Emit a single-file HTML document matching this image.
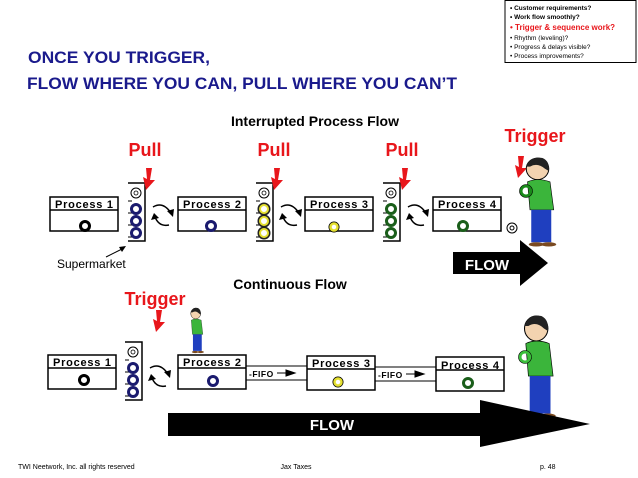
<!DOCTYPE html>
<html><head><meta charset="utf-8"><style>
html,body{margin:0;padding:0;background:#fff;}
svg{display:block;font-family:"Liberation Sans",sans-serif;}
</style></head><body>
<svg width="638" height="478" viewBox="0 0 638 478" xmlns="http://www.w3.org/2000/svg">
<defs>
<g id="pbox">
 <rect x="0" y="0" width="68" height="34" fill="#fff" stroke="#000" stroke-width="1.5"/>
 <line x1="0" y1="13" x2="68" y2="13" stroke="#000" stroke-width="1.5"/>
</g>
<g id="rackframe">
 <path d="M0 0 H17 V58 H0" fill="none" stroke="#000" stroke-width="1.5"/>
 <line x1="0" y1="18" x2="4" y2="18" stroke="#000"/>
 <line x1="0" y1="30" x2="4" y2="30" stroke="#000"/>
 <line x1="0" y1="42" x2="4" y2="42" stroke="#000"/>
 <line x1="0" y1="54" x2="4" y2="54" stroke="#000"/>
 <circle cx="8" cy="10" r="5" fill="#fff" stroke="#000" stroke-width="1"/>
 <circle cx="8" cy="10" r="2" fill="none" stroke="#000" stroke-width="0.8"/>
</g>
<g id="curl">
 <path d="M2 -8 Q12 -14 20 -2" fill="none" stroke="#000" stroke-width="1.5"/>
 <path d="M16 -4 L22 2 L23 -6 Z" fill="#000"/>
 <path d="M18 10 Q8 12 4 2" fill="none" stroke="#000" stroke-width="1.5"/>
 <path d="M0 5 L3 -2 L8 3 Z" fill="#000"/>
</g>
<g id="redarrow">
 <path d="M3 0 L9 0 L7 12 L12 12 L3 22 L0 9 L4 11 Z" fill="#e8161b"/>
</g>
<g id="person">
 <ellipse cx="14" cy="10" rx="9" ry="10" fill="#f3d3b0" stroke="#000" stroke-width="0.8"/>
 <path d="M5 8 Q8 -2 18 0 Q24 3 23 12 L20 10 Q14 4 8 8 Z" fill="#222"/>
 <path d="M6 22 Q14 18 24 22 L27 48 L8 48 Z" fill="#3bb53b" stroke="#000" stroke-width="0.5"/>
 <rect x="9" y="48" width="16" height="30" fill="#1f3fbf"/>
 <ellipse cx="13" cy="80" rx="6" ry="2" fill="#7a4a20"/>
 <ellipse cx="23" cy="80" rx="6" ry="2" fill="#7a4a20"/>
</g>
</defs>

<rect x="505" y="0.5" width="131" height="62" fill="#fff" stroke="#000" stroke-width="1"/>
<g font-size="6.5" fill="#000">
<text x="510" y="10" font-weight="bold">•  Customer requirements?</text>
<text x="510" y="19" font-weight="bold">•  Work flow smoothly?</text>
<text x="510" y="30" font-weight="bold" fill="#e8161b" font-size="8">•  Trigger &amp; sequence work?</text>
<text x="510" y="40">•  Rhythm (leveling)?</text>
<text x="510" y="49">•  Progress &amp; delays visible?</text>
<text x="510" y="58">•  Process improvements?</text>
</g>

<g fill="#1a1a8c" font-weight="bold" font-size="17">
<text x="28" y="63" textLength="182" lengthAdjust="spacingAndGlyphs">ONCE YOU TRIGGER,</text>
<text x="27" y="89" textLength="430" lengthAdjust="spacingAndGlyphs">FLOW WHERE YOU CAN, PULL WHERE YOU CAN’T</text>
</g>
<text x="315" y="126" font-size="14" font-weight="bold" text-anchor="middle">Interrupted Process Flow</text>

<g fill="#e8161b" font-weight="bold" font-size="18">
<text x="145" y="156" text-anchor="middle">Pull</text>
<text x="274" y="156" text-anchor="middle">Pull</text>
<text x="402" y="156" text-anchor="middle">Pull</text>
<text x="535" y="142" text-anchor="middle">Trigger</text>
<text x="155" y="305" text-anchor="middle">Trigger</text>
</g>

<g font-size="11" font-weight="bold">
<use href="#pbox" x="50" y="197"/><text x="55" y="208" textLength="58">Process 1</text>
<use href="#pbox" x="178" y="197"/><text x="183" y="208" textLength="58">Process 2</text>
<use href="#pbox" x="305" y="197"/><text x="310" y="208" textLength="58">Process 3</text>
<use href="#pbox" x="433" y="197"/><text x="438" y="208" textLength="58">Process 4</text>
</g>
<circle cx="85" cy="226" r="4.5" fill="none" stroke="#000" stroke-width="3"/>
<circle cx="211" cy="226" r="4.5" fill="none" stroke="#1a1a6e" stroke-width="3"/>
<circle cx="334" cy="227" r="5" fill="none" stroke="#000" stroke-width="1"/><circle cx="334" cy="227" r="3.5" fill="none" stroke="#e5e030" stroke-width="2.5"/>
<circle cx="463" cy="226" r="4.5" fill="none" stroke="#1a5e1a" stroke-width="3"/>
<circle cx="512" cy="228" r="5" fill="#fff" stroke="#000"/><circle cx="512" cy="228" r="2" fill="none" stroke="#000"/>

<use href="#rackframe" x="128" y="183"/>
<use href="#rackframe" x="256" y="183"/>
<use href="#rackframe" x="383" y="183"/>
<g fill="none" stroke-width="3">
<g stroke="#1a1a6e"><circle cx="136" cy="209" r="4.5"/><circle cx="136" cy="221" r="4.5"/><circle cx="136" cy="233" r="4.5"/></g>
<g stroke="#222"><circle cx="264" cy="209" r="5"/><circle cx="264" cy="221" r="5"/><circle cx="264" cy="233" r="5"/></g>
<g stroke="#e5e030" stroke-width="2"><circle cx="264" cy="209" r="4"/><circle cx="264" cy="221" r="4"/><circle cx="264" cy="233" r="4"/></g>
<g stroke="#1a5e1a"><circle cx="391" cy="209" r="4.5"/><circle cx="391" cy="221" r="4.5"/><circle cx="391" cy="233" r="4.5"/></g>
</g>
<use href="#curl" x="151" y="215"/>
<use href="#curl" x="279" y="215"/>
<use href="#curl" x="406" y="215"/>
<use href="#redarrow" x="143" y="168"/>
<use href="#redarrow" x="271" y="168"/>
<use href="#redarrow" x="399" y="168"/>
<use href="#redarrow" x="515" y="156"/>
<g transform="translate(520 158) scale(1.25 1.08)"><use href="#person"/></g>
<circle cx="526" cy="191" r="5" fill="none" stroke="#1a8a1a" stroke-width="3"/><circle cx="526" cy="191" r="6.5" fill="none" stroke="#000" stroke-width="0.6"/>

<text x="57" y="268" font-size="12">Supermarket</text>
<line x1="106" y1="257" x2="124" y2="248" stroke="#000"/><path d="M126 246 L119 247 L122 252 Z" fill="#000"/>

<path d="M453 252 H520 V240 L548 263 L520 286 V274 H453 Z" fill="#000"/>
<text x="487" y="270" font-size="15" font-weight="bold" fill="#fff" text-anchor="middle">FLOW</text>

<text x="290" y="289" font-size="14" font-weight="bold" text-anchor="middle">Continuous Flow</text>

<g font-size="11" font-weight="bold">
<use href="#pbox" x="48" y="355"/><text x="53" y="366" textLength="58">Process 1</text>
<use href="#pbox" x="178" y="355"/><text x="183" y="366" textLength="58">Process 2</text>
<use href="#pbox" x="307" y="356"/><text x="312" y="367" textLength="58">Process 3</text>
<use href="#pbox" x="436" y="357"/><text x="441" y="369" textLength="58">Process 4</text>
</g>
<circle cx="84" cy="380" r="4.5" fill="none" stroke="#000" stroke-width="3"/>
<circle cx="213" cy="381" r="4.5" fill="none" stroke="#1a1a6e" stroke-width="3"/>
<circle cx="338" cy="382" r="5" fill="none" stroke="#000" stroke-width="1"/><circle cx="338" cy="382" r="3.5" fill="none" stroke="#e5e030" stroke-width="2.5"/>
<circle cx="468" cy="383" r="4.5" fill="none" stroke="#1a5e1a" stroke-width="3"/>
<line x1="246" y1="366" x2="307" y2="366" stroke="#000"/><line x1="246" y1="380" x2="307" y2="380" stroke="#000"/>
<text x="249" y="377" font-size="8.5" font-weight="bold" letter-spacing="0.5">-FIFO</text><path d="M277 373 H290 M286 370 L295 373 L286 376 Z" stroke="#000" fill="#000"/>
<line x1="375" y1="367" x2="436" y2="367" stroke="#000"/><line x1="375" y1="381" x2="436" y2="381" stroke="#000"/>
<text x="378" y="378" font-size="8.5" font-weight="bold" letter-spacing="0.5">-FIFO</text><path d="M406 374 H419 M415 371 L424 374 L415 377 Z" stroke="#000" fill="#000"/>

<use href="#rackframe" x="125" y="342"/>
<g fill="none" stroke="#1a1a6e" stroke-width="3"><circle cx="133" cy="368" r="4.5"/><circle cx="133" cy="380" r="4.5"/><circle cx="133" cy="392" r="4.5"/></g>
<use href="#curl" x="148" y="376"/>
<use href="#redarrow" x="153" y="310"/>
<g transform="translate(188 308) scale(0.55)"><use href="#person"/></g>
<g transform="translate(518 316) scale(1.3 1.25)"><use href="#person"/></g>
<circle cx="525" cy="357" r="5" fill="none" stroke="#3bbf3b" stroke-width="3"/><circle cx="525" cy="357" r="6.5" fill="none" stroke="#000" stroke-width="0.6"/>

<path d="M168 413 H480 V400 L590 424 L480 447 V436 H168 Z" fill="#000"/>
<text x="332" y="430" font-size="15" font-weight="bold" fill="#fff" text-anchor="middle">FLOW</text>

<g font-size="7" fill="#000">
<text x="18" y="469">TWI Neetwork, Inc. all rights reserved</text>
<text x="296" y="469" text-anchor="middle">Jax Taxes</text>
<text x="540" y="469">p. 48</text>
</g>
</svg>
</body></html>
